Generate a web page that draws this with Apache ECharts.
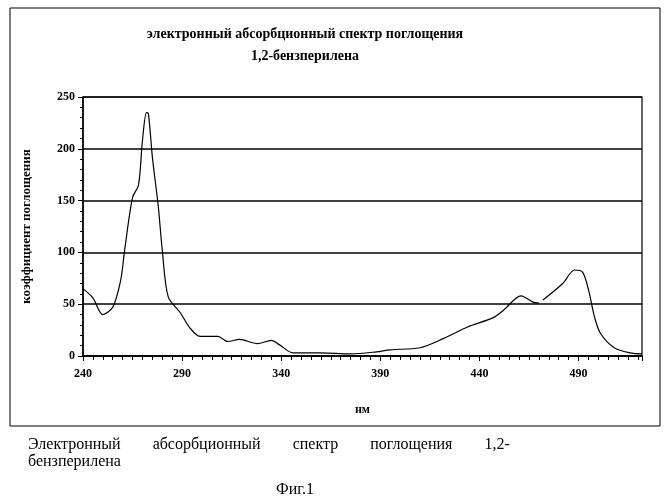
<!DOCTYPE html><html><head><meta charset="utf-8"><script src="https://cdn.jsdelivr.net/npm/echarts@6/dist/echarts.min.js"></script></head><body style="margin:0;background:#fff"><div id="c" style="width:671px;height:500px"></div><script>
const wavelengths=[240,245,250,255,259,261,265,268,270,272,273,275,278,280,283,289,294,299,308,313,319,328,335,339,346,360,375,388,395,410,422,434,447,452,461,467,470,471,472,482,488,492,495,498,501,508,516,522];
const absorbance=[65,56,40,47,73,102,153,165,208,235,234,192,144,102,57,42,27,19,19,14,16,12,15,11,3,3,2,4,6,8,17,28,37,44,58,52,51,null,54,70,83,81,64,38,22,8,3,2];
const yTicks=[0,50,100,150,200,250];
const F='"Liberation Serif","Times New Roman",serif';
const ch=echarts.init(document.getElementById('c'));
ch.setOption({animation:false,
title:{text:'электронный абсорбционный спектр поглощения\n1,2-бензперилена',left:300,top:18,textAlign:'center',textStyle:{fontFamily:F,fontSize:14,fontWeight:'bold',color:'#000',lineHeight:22}},
grid:{left:83,right:29,top:97,bottom:144},
xAxis:{type:'value',min:240,max:522,interval:50,name:'нм',nameLocation:'middle',nameGap:48,nameTextStyle:{fontFamily:F,fontWeight:'bold',fontSize:12,color:'#000'},
axisLine:{lineStyle:{color:'#000',width:1.5}},axisTick:{show:true,lineStyle:{color:'#000'}},minorTick:{show:true,splitNumber:10,length:4,lineStyle:{color:'#000'}},splitLine:{show:false},
axisLabel:{fontFamily:F,fontWeight:'bold',fontSize:12,color:'#000',showMaxLabel:false,margin:12}},
yAxis:{type:'value',min:0,max:250,interval:50,name:'коэффициент поглощения',nameLocation:'middle',nameGap:50,nameTextStyle:{fontFamily:F,fontWeight:'bold',fontSize:13,color:'#000'},
axisLine:{show:true,lineStyle:{color:'#000',width:1.5}},axisTick:{show:true,lineStyle:{color:'#000'}},minorTick:{show:true,splitNumber:5,length:3,lineStyle:{color:'#000'}},
splitLine:{lineStyle:{color:'#000',width:1.5}},axisLabel:{fontFamily:F,fontWeight:'bold',fontSize:12,color:'#000',formatter:v=>yTicks.includes(v)?v:''}},
series:[{type:'line',data:wavelengths.map((w,i)=>[w,absorbance[i]]),showSymbol:false,smooth:0.3,connectNulls:false,lineStyle:{color:'#000',width:1.2}}],
graphic:[{type:'rect',shape:{x:83,y:97,width:559,height:259},style:{fill:'none',stroke:'#000',lineWidth:1.2},silent:true},
{type:'rect',shape:{x:10,y:8,width:650,height:418},style:{fill:'none',stroke:'#000',lineWidth:1},silent:true},
{type:'text',left:28,top:436,style:{text:'Электронный        абсорбционный        спектр        поглощения        1,2-\nбензперилена',font:'16px '+F,fill:'#000',lineHeight:17}},
{type:'text',left:276,top:482,style:{text:'Фиг.1',font:'16px '+F,fill:'#000'}}]});
</script></body></html>
